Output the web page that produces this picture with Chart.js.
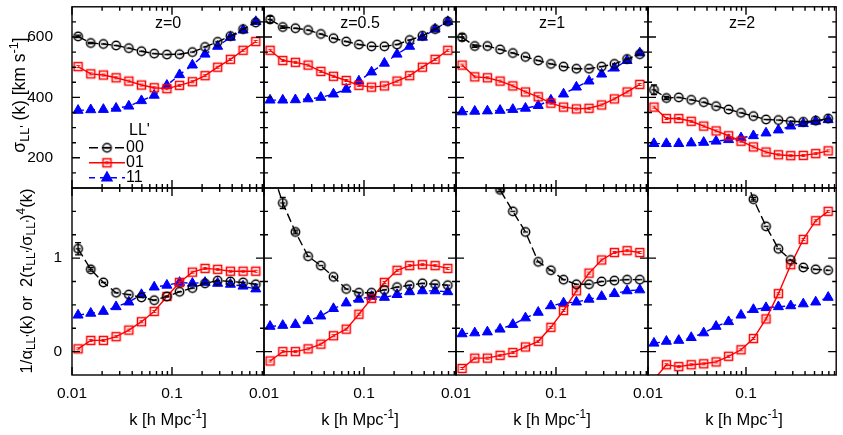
<!DOCTYPE html>
<html>
<head>
<meta charset="utf-8">
<script src="https://cdn.jsdelivr.net/npm/chart.js@4.4.0/dist/chart.umd.min.js"></script>
<style>
body { margin: 0; background: #fff; }
#wrap { position: relative; width: 843px; height: 435px; overflow: hidden; font-family: "Liberation Sans", Arial, sans-serif; color: #000; }
#wrap canvas { position: absolute; left: 0; top: 0; }
.lab { position: absolute; font-size: 16.5px; white-space: nowrap; line-height: 1; }
.lab sub, .lab sup { font-size: 72%; line-height: 0; }
.lab sub { vertical-align: -0.3em; }
.lab sup { vertical-align: 0.55em; }
.rot { transform: translate(-50%, -50%) rotate(-90deg); }
.big { font-size: 17.5px; }
.hor { transform: translate(-50%, -50%); }
</style>
</head>
<body>
<div id="wrap"></div>
<script>
// k bins [h/Mpc]
const kValues = [0.0115, 0.0154, 0.0206, 0.0276, 0.0370, 0.0495, 0.0664, 0.0889, 0.119, 0.160, 0.214, 0.286, 0.384, 0.514, 0.689];
const redshifts = ['z=0', 'z=0.5', 'z=1', 'z=2'];
const seriesNames = ['00', '01', '11'];

// sigma_LL'(k) [km/s], one row per redshift
const sigma00 = [
  [602, 580, 577, 572, 563, 553, 545, 542, 543, 550, 567, 584, 603, 626, 648],
  [658, 633, 629, 623, 610, 596, 585, 575, 569, 569, 575, 590, 604, 626, 651],
  [599, 570, 570, 559, 547, 534, 522, 511, 502, 495, 495, 502, 511, 527, 543],
  [425, 398, 400, 392, 384, 371, 360, 349, 338, 327, 325, 321, 319, 323, 330]
];
const sigma01 = [
  [502, 478, 474, 465, 454, 441, 432, 429, 440, 452, 472, 500, 526, 556, 585],
  [556, 522, 516, 507, 486, 470, 456, 440, 434, 438, 454, 472, 500, 526, 556],
  [507, 468, 465, 454, 438, 418, 402, 381, 368, 362, 364, 375, 395, 418, 443],
  [368, 330, 330, 321, 305, 289, 273, 255, 236, 219, 210, 207, 208, 214, 223]
];
const sigma11 = [
  [357, 359, 360, 364, 371, 389, 407, 440, 475, 507, 543, 569, 599, 623, 651],
  [391, 391, 392, 395, 400, 411, 427, 454, 484, 513, 543, 569, 599, 626, 651],
  [352, 354, 355, 357, 360, 364, 373, 391, 411, 434, 454, 477, 497, 522, 547],
  [247, 247, 247, 249, 251, 255, 260, 266, 273, 282, 292, 305, 313, 321, 326]
];
const sigma00Err = [
  [4, 2, 0, 0, 0, 0, 0, 0, 0, 0, 0, 0, 0, 0, 0],
  [10, 4, 0, 0, 0, 0, 0, 0, 0, 0, 0, 0, 0, 0, 0],
  [11, 4, 0, 0, 0, 0, 0, 0, 0, 0, 0, 0, 0, 0, 0],
  [16, 5, 0, 0, 0, 0, 0, 0, 0, 0, 0, 0, 0, 0, 0]
];

// 1/alpha_LL'(k) or 2(tau/sigma)^4(k)
const ratio00 = [
  [1.10, 0.88, 0.74, 0.63, 0.61, 0.58, 0.55, 0.59, 0.64, 0.68, 0.73, 0.76, 0.75, 0.74, 0.72],
  [2.00, 1.59, 1.28, 1.02, 0.92, 0.80, 0.67, 0.63, 0.63, 0.66, 0.69, 0.71, 0.73, 0.72, 0.71],
  [2.60, 2.25, 1.98, 1.73, 1.50, 1.28, 0.96, 0.87, 0.77, 0.72, 0.72, 0.75, 0.76, 0.77, 0.77],
  [5.00, 4.30, 3.70, 3.20, 2.80, 2.45, 2.20, 1.98, 1.63, 1.34, 1.10, 0.98, 0.90, 0.88, 0.87]
];
const ratio01 = [
  [0.03, 0.12, 0.12, 0.16, 0.23, 0.32, 0.43, 0.59, 0.74, 0.85, 0.89, 0.88, 0.86, 0.86, 0.86],
  [-0.10, 0.00, 0.00, 0.03, 0.08, 0.17, 0.24, 0.40, 0.57, 0.74, 0.87, 0.92, 0.93, 0.92, 0.89],
  [-0.18, -0.07, -0.07, -0.04, -0.01, 0.05, 0.11, 0.26, 0.44, 0.65, 0.84, 0.98, 1.06, 1.08, 1.06],
  [-0.30, -0.14, -0.16, -0.14, -0.13, -0.11, -0.05, 0.02, 0.14, 0.35, 0.62, 0.93, 1.20, 1.40, 1.50]
];
const ratio11 = [
  [0.39, 0.41, 0.43, 0.48, 0.53, 0.61, 0.69, 0.71, 0.74, 0.73, 0.74, 0.73, 0.72, 0.70, 0.67],
  [0.27, 0.28, 0.29, 0.33, 0.38, 0.46, 0.52, 0.56, 0.59, 0.58, 0.61, 0.64, 0.65, 0.65, 0.64],
  [0.19, 0.20, 0.21, 0.24, 0.29, 0.36, 0.42, 0.49, 0.52, 0.53, 0.56, 0.59, 0.62, 0.65, 0.66],
  [0.09, 0.11, 0.12, 0.15, 0.20, 0.27, 0.32, 0.39, 0.45, 0.47, 0.48, 0.49, 0.51, 0.53, 0.58]
];
const ratio00Err = [
  [0.065, 0.02, 0, 0, 0, 0, 0, 0, 0, 0, 0, 0, 0, 0, 0],
  [0, 0.06, 0.02, 0, 0, 0, 0, 0, 0, 0, 0, 0, 0, 0, 0],
  [0, 0, 0, 0.02, 0, 0, 0, 0, 0, 0, 0, 0, 0, 0, 0],
  [0, 0, 0, 0, 0, 0, 0, 0, 0.02, 0, 0, 0, 0, 0, 0]
];

// axes
const kMin = 0.01, kMax = 0.832;
const xMajor = [0.01, 0.1];
const xMinor = [0.02, 0.03, 0.04, 0.05, 0.06, 0.07, 0.08, 0.09, 0.2, 0.3, 0.4, 0.5, 0.6, 0.7, 0.8];
const yTopRange = [100, 700];
const yTopMajor = [200, 400, 600];
const yTopMinor = [150, 250, 300, 350, 450, 500, 550, 650];
const yBotRange = [-0.25, 1.75];
const yBotMajor = [0, 1];
const yBotMinor = [0.25, 0.5, 0.75, 1.25, 1.5];

// layout
const W = 843, H = 435;
const panelLeft = [72, 264, 456, 648];
const panelW = 192;
const rowTop = [2, 188], rowBottom = [188, 375];
const FONT = '"Liberation Sans", Arial, sans-serif';

Chart.defaults.font.family = FONT;
Chart.defaults.font.size = 15.5;
Chart.defaults.color = '#000';

function markerImage(kind, color) {
  const c = document.createElement('canvas');
  c.width = 13; c.height = 13;
  const g = c.getContext('2d');
  g.strokeStyle = color;
  g.lineWidth = 1.5;
  if (kind === 'circle') {
    g.beginPath(); g.arc(6.5, 6.5, 4.2, 0, 2 * Math.PI); g.stroke();
    g.beginPath(); g.moveTo(4, 6.5); g.lineTo(9, 6.5); g.stroke();
  } else {
    g.strokeRect(2.5, 2.5, 8, 8);
    g.lineWidth = 1;
    g.beginPath();
    g.moveTo(4.5, 5.5); g.lineTo(8.5, 5.5);
    g.moveTo(4.5, 7.5); g.lineTo(8.5, 7.5);
    g.stroke();
  }
  return c;
}
const circleImg = markerImage('circle', '#000');
const squareImg = markerImage('square', '#ff0000');

const styles = [
  { color: '#000000', dash: [9, 4], point: circleImg, radius: 5 },
  { color: '#ff0000', dash: [], point: squareImg, radius: 5 },
  { color: '#0000ff', dash: [6, 5], point: 'triangle', radius: 5.8 }
];

// inward ticks and frame
const framePlugin = {
  id: 'frame',
  afterDatasetsDraw(chart, args, o) {
    const { ctx, chartArea: a, scales: { x, y } } = chart;
    ctx.save();
    ctx.strokeStyle = '#000';
    ctx.lineWidth = 1.4;
    ctx.beginPath();
    const xt = (vals, len) => vals.forEach(v => {
      const px = x.getPixelForValue(v);
      ctx.moveTo(px, a.bottom); ctx.lineTo(px, a.bottom - len);
      ctx.moveTo(px, a.top); ctx.lineTo(px, a.top + len);
    });
    const yt = (vals, len) => vals.forEach(v => {
      const py = y.getPixelForValue(v);
      ctx.moveTo(a.left, py); ctx.lineTo(a.left + len, py);
      ctx.moveTo(a.right, py); ctx.lineTo(a.right - len, py);
    });
    xt(xMajor, 8); xt(xMinor, 4);
    yt(o.yMajor, 8); yt(o.yMinor, 4);
    ctx.stroke();
    ctx.strokeRect(a.left, a.top, a.right - a.left, a.bottom - a.top);
    ctx.restore();
  }
};

// error bars for datasets carrying an "errors" array
const errorPlugin = {
  id: 'errbars',
  afterDatasetsDraw(chart) {
    const { ctx, chartArea: a, scales: { y } } = chart;
    ctx.save();
    ctx.beginPath(); ctx.rect(a.left, a.top, a.right - a.left, a.bottom - a.top); ctx.clip();
    chart.data.datasets.forEach((ds, di) => {
      if (!ds.errors) return;
      const meta = chart.getDatasetMeta(di);
      ctx.strokeStyle = ds.borderColor;
      ctx.lineWidth = 1.3;
      ds.errors.forEach((e, i) => {
        if (!e) return;
        const px = meta.data[i].x;
        const v = ds.data[i].y;
        const y1 = y.getPixelForValue(v + e), y2 = y.getPixelForValue(v - e);
        ctx.beginPath();
        ctx.moveTo(px, y1); ctx.lineTo(px, y2);
        ctx.moveTo(px - 3, y1); ctx.lineTo(px + 3, y1);
        ctx.moveTo(px - 3, y2); ctx.lineTo(px + 3, y2);
        ctx.stroke();
      });
    });
    ctx.restore();
  }
};

// redshift label and key
const textPlugin = {
  id: 'paneltext',
  afterDraw(chart, args, o) {
    const { ctx, chartArea: a } = chart;
    ctx.save();
    ctx.fillStyle = '#000';
    ctx.font = '16px ' + FONT;
    ctx.textBaseline = 'middle';
    if (o.title) {
      ctx.textAlign = 'center';
      ctx.fillText(o.title, (a.left + a.right) / 2, a.top + 17);
    }
    if (o.legend) {
      ctx.textAlign = 'left';
      ctx.fillText("LL'", a.left + 57, a.top + 124);
      const rows = [a.top + 141, a.top + 156, a.top + 171];
      chart.data.datasets.forEach((ds, i) => {
        const yy = rows[i];
        ctx.strokeStyle = ds.borderColor;
        ctx.lineWidth = 1.4;
        ctx.setLineDash(ds.borderDash || []);
        ctx.beginPath(); ctx.moveTo(a.left + 17, yy); ctx.lineTo(a.left + 53, yy); ctx.stroke();
        ctx.setLineDash([]);
        ctx.fillStyle = ds.backgroundColor;
        Chart.helpers.drawPoint(ctx, {
          pointStyle: ds.pointStyle, radius: ds.pointRadius, borderWidth: 1, rotation: 0
        }, a.left + 35, yy);
        ctx.fillStyle = '#000';
        ctx.fillText(seriesNames[i], a.left + 54, yy);
      });
    }
    ctx.restore();
  }
};

function dataset(i, vals, errs) {
  const s = styles[i];
  const ds = {
    label: seriesNames[i],
    data: kValues.map((k, j) => ({ x: k, y: vals[j] })),
    borderColor: s.color,
    backgroundColor: s.color,
    borderWidth: 1.4,
    borderDash: s.dash,
    pointStyle: s.point,
    pointRadius: s.radius,
    pointBorderWidth: 1,
    pointBackgroundColor: s.color,
    pointBorderColor: s.color,
    tension: 0
  };
  if (errs) ds.errors = errs;
  return ds;
}

function makePanel(row, col) {
  const canvas = document.createElement('canvas');
  canvas.width = W; canvas.height = H;
  document.getElementById('wrap').appendChild(canvas);
  const L = panelLeft[col], R = L + panelW, T = rowTop[row], B = rowBottom[row];
  const top = row === 0;
  const yw = col === 0 ? 64 : 0;     // room kept for y tick labels
  const xh = top ? 0 : 40;           // room kept for x tick labels
  const datasets = top
    ? [dataset(0, sigma00[col], sigma00Err[col]), dataset(1, sigma01[col]), dataset(2, sigma11[col])]
    : [dataset(0, ratio00[col], ratio00Err[col]), dataset(1, ratio01[col]), dataset(2, ratio11[col])];
  const yMajor = top ? yTopMajor : yBotMajor;
  const yMinor = top ? yTopMinor : yBotMinor;
  const yRange = top ? yTopRange : yBotRange;
  new Chart(canvas, {
    type: 'line',
    data: { datasets: datasets },
    plugins: [framePlugin, errorPlugin, textPlugin],
    options: {
      responsive: false,
      animation: false,
      events: [],
      layout: { padding: { left: L - yw, top: T, right: W - R, bottom: H - B - xh } },
      plugins: {
        legend: { display: false },
        tooltip: { enabled: false },
        frame: { yMajor: yMajor, yMinor: yMinor },
        paneltext: { title: top ? redshifts[col] : null, legend: top && col === 0 }
      },
      scales: {
        x: {
          type: 'logarithmic', min: kMin, max: kMax,
          grid: { display: false, drawTicks: false }, border: { display: false },
          afterBuildTicks: s => { s.ticks = xMajor.map(v => ({ value: v })); },
          afterFit: s => { s.height = xh; s.paddingLeft = 0; s.paddingRight = 0; },
          ticks: { display: !top, padding: 9, maxRotation: 0, autoSkip: false, callback: v => String(v) }
        },
        y: {
          type: 'linear', min: yRange[0], max: yRange[1],
          grid: { display: false, drawTicks: false }, border: { display: false },
          afterBuildTicks: s => { s.ticks = yMajor.map(v => ({ value: v })); },
          afterFit: s => { s.width = yw; s.paddingTop = 0; s.paddingBottom = 0; },
          ticks: { display: col === 0, padding: top ? 19 : 10, callback: v => String(v) }
        }
      }
    }
  });
}

for (let r = 0; r < 2; r++) for (let c = 0; c < 4; c++) makePanel(r, c);

// axis titles as text
const wrap = document.getElementById('wrap');
function addLabel(html, x, y, cls) {
  const d = document.createElement('div');
  d.className = 'lab ' + cls;
  d.style.left = x + 'px'; d.style.top = y + 'px';
  d.innerHTML = html;
  wrap.appendChild(d);
}
addLabel("σ<sub>LL'</sub> (k) [km s<sup>-1</sup>]", 20, 95, 'rot big');
addLabel("1/α<sub>LL'</sub>(k) or &nbsp;2(τ<sub>LL'</sub>/σ<sub>LL'</sub>)<sup>4</sup>(k)", 26, 281, 'rot');
panelLeft.forEach(L => addLabel("k [h Mpc<sup>-1</sup>]", L + panelW / 2, 419, 'hor'));
</script>
</body>
</html>
